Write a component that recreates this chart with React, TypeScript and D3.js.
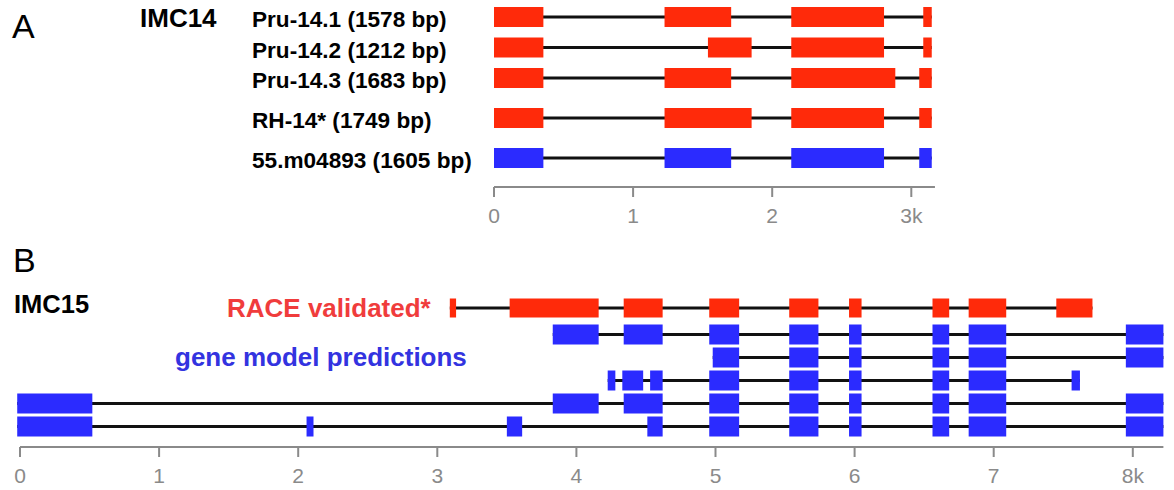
import React from 'react'
import * as d3 from 'd3'

// panel A: IMC14 transcripts (exon start/end in bp)
const imc14Labels = [
  'Pru-14.1 (1578 bp)',
  'Pru-14.2 (1212 bp)',
  'Pru-14.3 (1683 bp)',
  'RH-14* (1749 bp)',
  '55.m04893 (1605 bp)',
]
const imc14Source = ['race', 'race', 'race', 'race', 'model']
const imc14Exons = [
  [[0, 355], [1226, 1705], [2137, 2804], [3086, 3147]],
  [[0, 355], [1538, 1852], [2137, 2804], [3086, 3147]],
  [[0, 355], [1226, 1705], [2137, 2885], [3057, 3147]],
  [[0, 355], [1226, 1852], [2137, 2804], [3057, 3147]],
  [[0, 355], [1226, 1705], [2137, 2804], [3057, 3147]],
]
const imc14Ticks = [0, 1000, 2000, 3000]
const imc14TickLabels = ['0', '1', '2', '3k']

// panel B: IMC15 transcripts
const imc15Source = ['race', 'model', 'model', 'model', 'model', 'model']
const imc15Exons = [
  [[3090, 3135], [3520, 4160], [4340, 4620], [4955, 5170], [5530, 5740], [5960, 6050], [6560, 6680], [6820, 7090], [7450, 7710]],
  [[3830, 4160], [4340, 4620], [4955, 5170], [5530, 5740], [5960, 6050], [6560, 6680], [6820, 7090], [7950, 8220]],
  [[4980, 5170], [5530, 5740], [5960, 6050], [6560, 6680], [6820, 7090], [7950, 8220]],
  [[4225, 4280], [4330, 4480], [4530, 4620], [4955, 5170], [5530, 5740], [5960, 6050], [6560, 6680], [6820, 7090], [7560, 7620]],
  [[-20, 520], [3830, 4160], [4340, 4620], [4955, 5170], [5530, 5740], [5960, 6050], [6560, 6680], [6820, 7090], [7950, 8220]],
  [[-20, 520], [2060, 2110], [3500, 3610], [4510, 4620], [4955, 5170], [5530, 5740], [5960, 6050], [6560, 6680], [6820, 7090], [7950, 8220]],
]
const imc15Ticks = [0, 1000, 2000, 3000, 4000, 5000, 6000, 7000, 8000]
const imc15TickLabels = ['0', '1', '2', '3', '4', '5', '6', '7', '8k']

const font = '"Liberation Sans", Arial, sans-serif'
const colors = { race: '#ff2a0a', model: '#2b2bff' }
const axisGrey = '#8a8a8a'

type Exon = number[]

// one transcript: black intron line under coloured exon boxes
const Transcript = ({ exons, x, y, h, fill }: { exons: Exon[]; x: d3.ScaleLinear<number, number>; y: number; h: number; fill: string }) => {
  const start = d3.min(exons, e => e[0]) as number
  const end = d3.max(exons, e => e[1]) as number
  return (
    <g>
      <line x1={x(start)} x2={x(end)} y1={y} y2={y} stroke="#111" strokeWidth={3} />
      {exons.map((e, i) => (
        <rect key={i} x={x(e[0])} y={y - h / 2} width={x(e[1]) - x(e[0])} height={h} fill={fill} />
      ))}
    </g>
  )
}

const Axis = ({ x, y, ticks, labels }: { x: d3.ScaleLinear<number, number>; y: number; ticks: number[]; labels: string[] }) => {
  const [r0, r1] = x.range()
  return (
    <g>
      <line x1={r0} x2={r1} y1={y} y2={y} stroke={axisGrey} strokeWidth={2} />
      {ticks.map((t, i) => (
        <g key={i} transform={`translate(${x(t)},${y})`}>
          <line y1={0} y2={10} stroke={axisGrey} strokeWidth={2} />
          <text y={36} textAnchor="middle" fontSize={21} fill={axisGrey} fontFamily={font}>
            {labels[i]}
          </text>
        </g>
      ))}
    </g>
  )
}

export default function App() {
  const width = 1174,
    height = 490
  const pxPerKb = 139.1

  // same bp-to-pixel ratio in both panels
  const xA = d3.scaleLinear().domain([0, 3170]).range([494, 494 + 3.17 * pxPerKb])
  const xB = d3.scaleLinear().domain([0, 8220]).range([20, 20 + 8.22 * pxPerKb])

  const aRowY = [17, 47.5, 78, 118, 158]
  const bRowY = [308, 334.5, 357.5, 380.5, 403.5, 426.5]

  return (
    <svg width={width} height={height} style={{ position: 'absolute', left: 0, top: 0, background: '#fff' }} fontFamily={font}>
      {/* panel A */}
      <text x={12} y={38} fontSize={34}>A</text>
      <text x={140} y={27} fontSize={26} fontWeight="bold">IMC14</text>
      {imc14Labels.map((l, i) => (
        <text key={i} x={252} y={aRowY[i] + 10} fontSize={22.6} fontWeight="bold">
          {l}
        </text>
      ))}
      {imc14Exons.map((ex, i) => (
        <Transcript key={i} exons={ex} x={xA} y={aRowY[i]} h={20} fill={colors[imc14Source[i] as 'race' | 'model']} />
      ))}
      <Axis x={xA} y={187} ticks={imc14Ticks} labels={imc14TickLabels} />

      {/* panel B */}
      <text x={13} y={272} fontSize={34}>B</text>
      <text x={14} y={313} fontSize={25.5} fontWeight="bold">IMC15</text>
      <text x={227} y={317} fontSize={26} fontWeight="bold" fill="#f03c3c">RACE validated*</text>
      <text x={175} y={366} fontSize={26} fontWeight="bold" fill="#3333e0">gene model predictions</text>
      {imc15Exons.map((ex, i) => (
        <Transcript key={i} exons={ex} x={xB} y={bRowY[i]} h={i === 0 ? 19 : 20} fill={colors[imc15Source[i] as 'race' | 'model']} />
      ))}
      <Axis x={xB} y={447} ticks={imc15Ticks} labels={imc15TickLabels} />
    </svg>
  )
}
